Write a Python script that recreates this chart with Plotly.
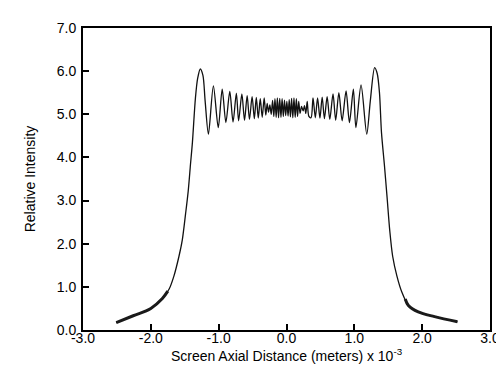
import plotly.graph_objects as go

# Main curve: points (x in 1e-3 m, relative intensity)
curve_x = [-2.51, -2.26, -2.00, -1.83, -1.73, -1.66, -1.585, -1.536, -1.488, -1.449,
           -1.416, -1.387, -1.343, -1.31, -1.271, -1.232, -1.199, -1.151, -1.078, -1.006,
           -0.948, -0.894, -0.836, -0.788, -0.739, -0.706, -0.658, -0.619, -0.580, -0.546,
           -0.507, -0.474, -0.445, -0.416, -0.387, -0.358, -0.329, -0.305, -0.285, -0.265,
           -0.245, -0.225, -0.205, -0.187, -0.170, -0.152, -0.135, -0.117, -0.100, -0.082,
           -0.065, -0.047, -0.030, -0.012, 0.005, 0.023, 0.040, 0.058, 0.075, 0.093,
           0.110, 0.128, 0.145, 0.163, 0.180, 0.200, 0.222, 0.245, 0.265, 0.285,
           0.305, 0.330, 0.362, 0.391, 0.425, 0.458, 0.493, 0.526, 0.559, 0.599,
           0.638, 0.686, 0.725, 0.772, 0.820, 0.878, 0.928, 0.986, 1.023, 1.099,
           1.183, 1.235, 1.299, 1.338, 1.371, 1.40, 1.443, 1.483, 1.522, 1.565,
           1.628, 1.70, 1.797, 1.942, 2.183, 2.52]
curve_y = [0.17, 0.33, 0.50, 0.73, 0.95, 1.25, 1.71, 2.09, 2.69, 3.22,
           3.83, 4.35, 5.37, 5.83, 6.05, 5.90, 5.30, 4.54, 5.66, 4.69,
           5.58, 4.81, 5.53, 4.82, 5.49, 4.85, 5.47, 4.86, 5.43, 4.88,
           5.41, 4.90, 5.39, 4.91, 5.36, 4.93, 5.38, 4.98, 5.25, 5.05,
           5.22, 5.00, 5.32, 4.95, 5.36, 4.93, 5.38, 4.92, 5.37, 4.93,
           5.36, 4.95, 5.33, 4.97, 5.30, 4.96, 5.34, 4.94, 5.37, 4.92,
           5.38, 4.93, 5.36, 4.95, 5.30, 5.02, 5.18, 5.08, 5.20, 5.02,
           5.30, 4.95, 4.92, 5.38, 4.92, 5.38, 4.91, 5.40, 4.90, 5.41,
           4.88, 5.47, 4.86, 5.50, 4.85, 5.54, 4.81, 5.58, 4.69, 5.68,
           4.54, 5.30, 6.08, 5.94, 5.49, 4.58, 3.83, 3.07, 2.31, 1.71,
           1.25, 0.88, 0.57, 0.42, 0.31, 0.19]

# Noisy-looking tails (drawn thicker, as in the reference)
left_tail_x = [-2.51, -2.26, -2.00, -1.83, -1.75]
left_tail_y = [0.17, 0.33, 0.50, 0.73, 0.90]
right_tail_x = [1.75, 1.797, 1.942, 2.183, 2.52]
right_tail_y = [0.72, 0.57, 0.42, 0.31, 0.19]

x_ticks = [-3, -2, -1, 0, 1, 2, 3]
y_ticks = [0, 1, 2, 3, 4, 5, 6, 7]

fig = go.Figure()
fig.add_trace(go.Scatter(x=curve_x, y=curve_y, mode="lines",
                         line=dict(color="#111111", width=1.3, shape="spline", smoothing=0.8),
                         showlegend=False))
fig.add_trace(go.Scatter(x=left_tail_x, y=left_tail_y, mode="lines",
                         line=dict(color="#1a1a1a", width=3, shape="spline"),
                         showlegend=False))
fig.add_trace(go.Scatter(x=right_tail_x, y=right_tail_y, mode="lines",
                         line=dict(color="#1a1a1a", width=3, shape="spline"),
                         showlegend=False))

font = dict(family="Liberation Sans, Arial, Helvetica, sans-serif", size=14, color="black")

fig.update_layout(
    width=504, height=384,
    margin=dict(l=75, r=15, t=13, b=62),
    paper_bgcolor="white", plot_bgcolor="white",
    font=font,
    xaxis=dict(range=[-3, 3], tickvals=x_ticks, ticktext=[f"{v:.1f}" for v in x_ticks],
               ticks="inside", ticklen=6, tickwidth=1.5, tickcolor="black",
               ticklabelstandoff=-6,
               showline=True, linewidth=2, linecolor="black", mirror=True,
               showgrid=False, zeroline=False,
               title=dict(text="Screen Axial Distance (meters) x 10<sup>-3</sup>",
                          font=font, standoff=5)),
    yaxis=dict(range=[0, 7], tickvals=y_ticks, ticktext=[f"{v:.1f}" for v in y_ticks],
               ticks="inside", ticklen=6, tickwidth=1.5, tickcolor="black",
               ticklabelstandoff=2,
               showline=True, linewidth=2, linecolor="black", mirror=True,
               showgrid=False, zeroline=False,
               title=dict(text="Relative Intensity", font=font, standoff=18)),
)

fig.write_html("out.html")
